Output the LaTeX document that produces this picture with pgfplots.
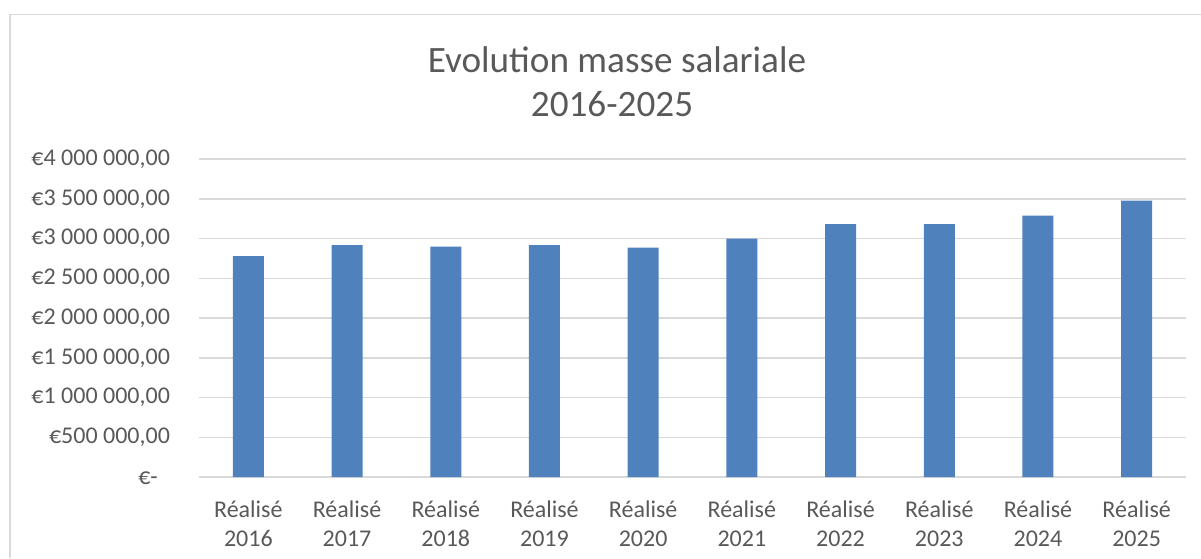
\documentclass[border=0pt]{standalone}
\usepackage{fontspec}
\setmainfont{Carlito}
\usepackage{pgfplots}
\pgfplotsset{compat=1.18}
\definecolor{barblue}{HTML}{4F81BD}
\definecolor{txt}{HTML}{595959}
\definecolor{gridc}{HTML}{D9D9D9}
\begin{document}
\begin{tikzpicture}
\useasboundingbox (0,0) rectangle (600.5pt,279pt);
\draw[gridc, line width=0.75pt] (5pt,0) -- (5pt,271.75pt) -- (600.5pt,271.75pt);
\begin{axis}[
  at={(99.5pt,40.5pt)}, anchor=south west, scale only axis,
  width=493.5pt, height=159pt,
  xmin=-0.5, xmax=9.5, ymin=0, ymax=4000000,
  scaled y ticks=false,
  axis line style={draw=none},
  ymajorgrids, grid style={gridc, line width=0.75pt},
  major tick length=0pt,
  ytick={0,500000,1000000,1500000,2000000,2500000,3000000,3500000,4000000},
  yticklabels={{€-\phantom{0}},{€500 000,00},{€1 000 000,00},{€1 500 000,00},{€2 000 000,00},{€2 500 000,00},{€3 000 000,00},{€3 500 000,00},{€4 000 000,00}},
  yticklabel style={text=txt, font=\fontsize{12}{14}\selectfont, xshift=-11pt},
  xtick={0,1,2,3,4,5,6,7,8,9},
  xticklabels={{Réalisé\\2016},{Réalisé\\2017},{Réalisé\\2018},{Réalisé\\2019},{Réalisé\\2020},{Réalisé\\2021},{Réalisé\\2022},{Réalisé\\2023},{Réalisé\\2024},{Réalisé\\2025}},
  xticklabel style={text=txt, align=center, font=\fontsize{12}{14.3}\selectfont, yshift=-8.5pt},
  ybar, bar width=15.5pt,
  clip=false,
]
\addplot[fill=barblue, draw=none] coordinates {
  (0,2777000) (1,2918000) (2,2898000) (3,2918000) (4,2886000)
  (5,2999000) (6,3182000) (7,3182000) (8,3287000) (9,3475000)
};
\end{axis}
\node[text=txt, anchor=base, font=\fontsize{18.6}{22}\selectfont] at (308.5pt,242.5pt) {Evolution masse salariale};
\node[text=txt, anchor=base, font=\fontsize{18.6}{22}\selectfont] at (306pt,220.5pt) {2016-2025};
\end{tikzpicture}
\end{document}
